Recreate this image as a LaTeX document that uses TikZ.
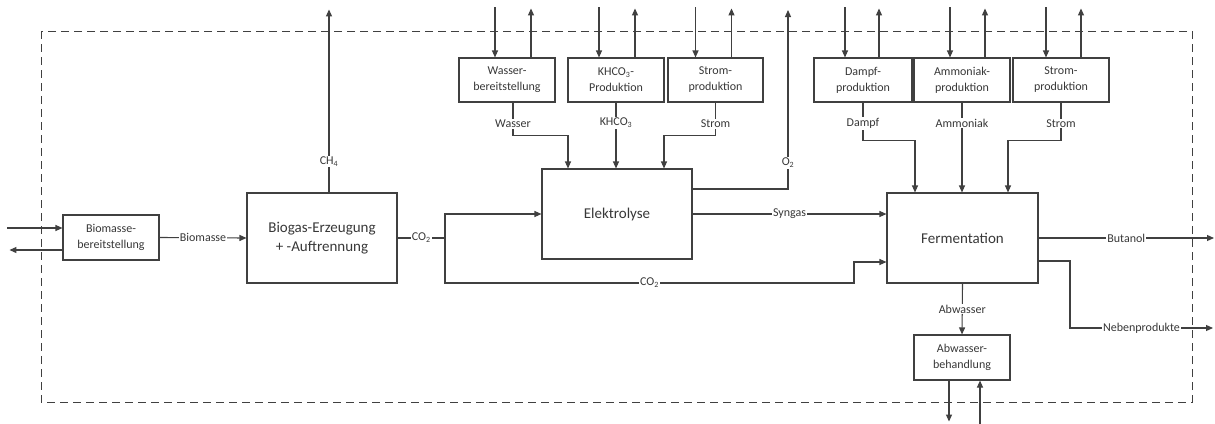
\documentclass[tikz,border=0pt]{standalone}
\usepackage{fontspec}
\setmainfont{Carlito}
\usetikzlibrary{arrows.meta,calc}
\definecolor{ink}{HTML}{404040}
\definecolor{txt}{HTML}{383838}

\begin{document}
\begin{tikzpicture}[x=1pt,y=-1pt,
  box/.style={draw=ink, line width=1.1pt, fill=white, align=center, inner sep=0pt,
    text=txt, font=\fontsize{12}{16}\selectfont},
  small/.style={box, minimum width=96pt, minimum height=44pt},
  big/.style={box, minimum width=150pt, minimum height=90pt, font=\fontsize{15}{19}\selectfont},
  flow/.style={draw=ink, line width=1.1pt},
  arr/.style={flow, -{Triangle[length=7pt,width=6pt]}},
  lbl/.style={fill=white, inner sep=1pt, text=txt, font=\fontsize{12}{13}\selectfont},
]
% canvas
\fill[white] (0,0) rectangle (1215,423);
\useasboundingbox (0,0) rectangle (1215,423);

% system boundary
\draw[ink, line width=1pt, dash pattern=on 8pt off 5pt] (41,31) rectangle (1192,402);

% main process units
\node[small, minimum height=45pt] (bm) at (111,237.5) {Biomasse-\\bereitstellung};
\node[big] (bg) at (322,238) {Biogas-Erzeugung\\+ -Auftrennung};
\node[big] (el) at (617,214) {Elektrolyse};
\node[big, minimum width=151pt] (fe) at (962.5,238) {Fermentation};
\node[small, minimum height=45pt] (ab) at (962,357.5) {Abwasser-\\behandlung};

% supply units
\node[small] (wa) at (507,80) {Wasser-\\bereitstellung};
\node[small] (kh) at (616,80) {KHCO\textsubscript{3}-\\Produktion};
\node[small, minimum width=95pt] (s1) at (715.5,80) {Strom-\\produktion};
\node[small, minimum width=98pt] (da) at (863,80) {Dampf-\\produktion};
\node[small] (am) at (962,80) {Ammoniak-\\produktion};
\node[small] (s2) at (1061,80) {Strom-\\produktion};

% exchanges of the supply units across the boundary
\foreach \n/\a/\b in {wa/-12/24, kh/-17/19, s1/-20/16, da/-18/16, am/-12/23, s2/-15/20}{
  \draw[arr] ($(\n.north)+(\a,-50)$) -- ($(\n.north)+(\a,0)$);
  \draw[arr] ($(\n.north)+(\b,0)$) -- ($(\n.north)+(\b,-49)$);
}

% biomass supply
\draw[arr] ($(bm.west)+(-55,-9.5)$) -- ([yshift=9.5pt]bm.west);
\draw[arr] ([yshift=-12.5pt]bm.west) -- ++(-53,0);
\draw[arr] (bm.east) -- node[lbl]{Biomasse} (bg.west);

% biogas plant
\draw[arr] ([xshift=7pt]bg.north) -- node[lbl, pos=0.17]{CH\textsubscript{4}} ++(0,-183);
\coordinate (sp) at (445,238);
\draw[flow] (bg.east) -- node[lbl]{CO\textsubscript{2}} (sp);
\draw[arr] (sp) |- (el.west);
\draw[arr] (sp) -- (445,283) -- node[lbl]{CO\textsubscript{2}} (854,283) |- ([yshift=-24pt]fe.west);

% inputs to the electrolysis
\draw[arr] ([xshift=6pt]wa.south) -- node[lbl, pos=0.64]{Wasser} ++(0,33) -| ([xshift=-49pt]el.north);
\draw[arr] (kh.south) -- node[lbl, pos=0.31]{KHCO\textsubscript{3}} (kh.south |- el.north);
\draw[arr] (s1.south) -- node[lbl, pos=0.64]{Strom} ++(0,33) -| ([xshift=47pt]el.north);

% electrolysis products
\draw[arr] ([yshift=25pt]el.east) -| node[lbl, pos=0.573]{O\textsubscript{2}} (788,10);
\draw[arr] (el.east) -- node[lbl]{Syngas} ([yshift=24pt]fe.west);

% inputs to the fermentation
\draw[arr] (da.south) -- node[lbl, pos=0.55]{Dampf} ++(0,38) -| ([xshift=-47.5pt]fe.north);
\draw[arr] (am.south) -- node[lbl, pos=0.23]{Ammoniak} (am.south |- fe.north);
\draw[arr] (s2.south) -- node[lbl, pos=0.55]{Strom} ++(0,38) -| ([xshift=45.5pt]fe.north);

% fermentation products
\draw[arr] (fe.east) -- node[lbl]{Butanol} (1214,238);
\draw[arr] ([yshift=-23pt]fe.east) -- (1070,261) -- (1070,328) -- node[lbl]{Nebenprodukte} (1213,328);
\draw[arr] (fe.south) -- node[lbl]{Abwasser} (ab.north);

% waste water treatment exchanges
\draw[arr] ([xshift=-13pt]ab.south) -- ++(0,41);
\draw[arr] ($(ab.south)+(18,43)$) -- ([xshift=18pt]ab.south);
\end{tikzpicture}
\end{document}
